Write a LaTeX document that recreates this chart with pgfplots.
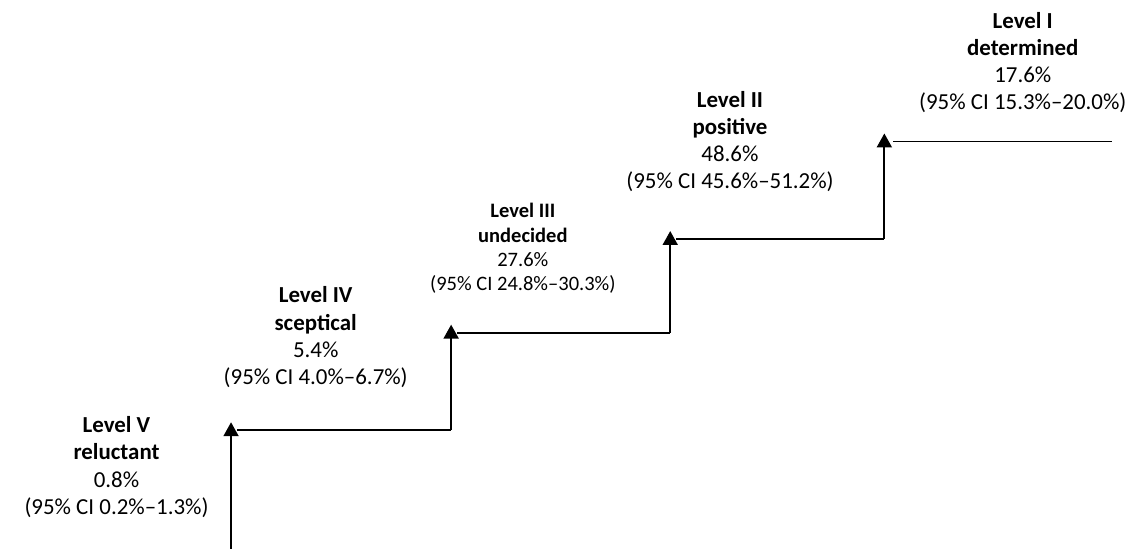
\documentclass[border=0pt]{standalone}
\usepackage{pgfplots}
\pgfplotsset{compat=1.18}
\usepackage{fontspec}
\setmainfont{Carlito}
\usetikzlibrary{arrows.meta}
\begin{document}
\begin{tikzpicture}
\begin{axis}[
    width=566.5pt, height=275.5pt,
    scale only axis,
    xmin=0, xmax=1133, ymin=0, ymax=551,
    axis lines=none,
    clip=false,
    ]
% keep the full frame as the picture's extent
\path (rel axis cs:0,0) rectangle (rel axis cs:1,1);
% steps: rising arrows
\addplot[black, line width=1pt, -{Triangle[width=7.5pt,length=7pt]}] coordinates {(232,0) (232,127)};
\addplot[black, line width=1pt, -{Triangle[width=7.5pt,length=7pt]}] coordinates {(453,119) (453,225)};
\addplot[black, line width=1pt, -{Triangle[width=7.5pt,length=7pt]}] coordinates {(673,217) (673,319)};
\addplot[black, line width=1pt, -{Triangle[width=7.5pt,length=7pt]}] coordinates {(888,311) (888,417)};
% treads
\addplot[black, line width=1pt] coordinates {(238,119) (453,119)};
\addplot[black, line width=1pt] coordinates {(459,217) (673,217)};
\addplot[black, line width=1pt] coordinates {(679,311) (888,311)};
\addplot[black, line width=0.5pt] coordinates {(897,409) (1117,409)};
% labels
\node[align=center, font=\fontsize{11.5}{13.6}\selectfont] at (axis cs:117,82)
  {\textbf{Level V}\\\textbf{reluctant}\\0.8\%\\(95\% CI 0.2\%–1.3\%)};
\node[align=center, font=\fontsize{11.5}{13.6}\selectfont] at (axis cs:317,212.5)
  {\textbf{Level IV}\\\textbf{sceptical}\\5.4\%\\(95\% CI 4.0\%–6.7\%)};
\node[align=center, font=\fontsize{10.3}{12.2}\selectfont] at (axis cs:525,301.5)
  {\textbf{Level III}\\\textbf{undecided}\\27.6\%\\(95\% CI 24.8\%–30.3\%)};
\node[align=center, font=\fontsize{11.5}{13.6}\selectfont] at (axis cs:733,408.5)
  {\textbf{Level II}\\\textbf{positive}\\48.6\%\\(95\% CI 45.6\%–51.2\%)};
\node[align=center, font=\fontsize{11.5}{13.6}\selectfont] at (axis cs:1027,488.5)
  {\textbf{Level I}\\\textbf{determined}\\17.6\%\\(95\% CI 15.3\%–20.0\%)};
\end{axis}
\end{tikzpicture}
\end{document}
